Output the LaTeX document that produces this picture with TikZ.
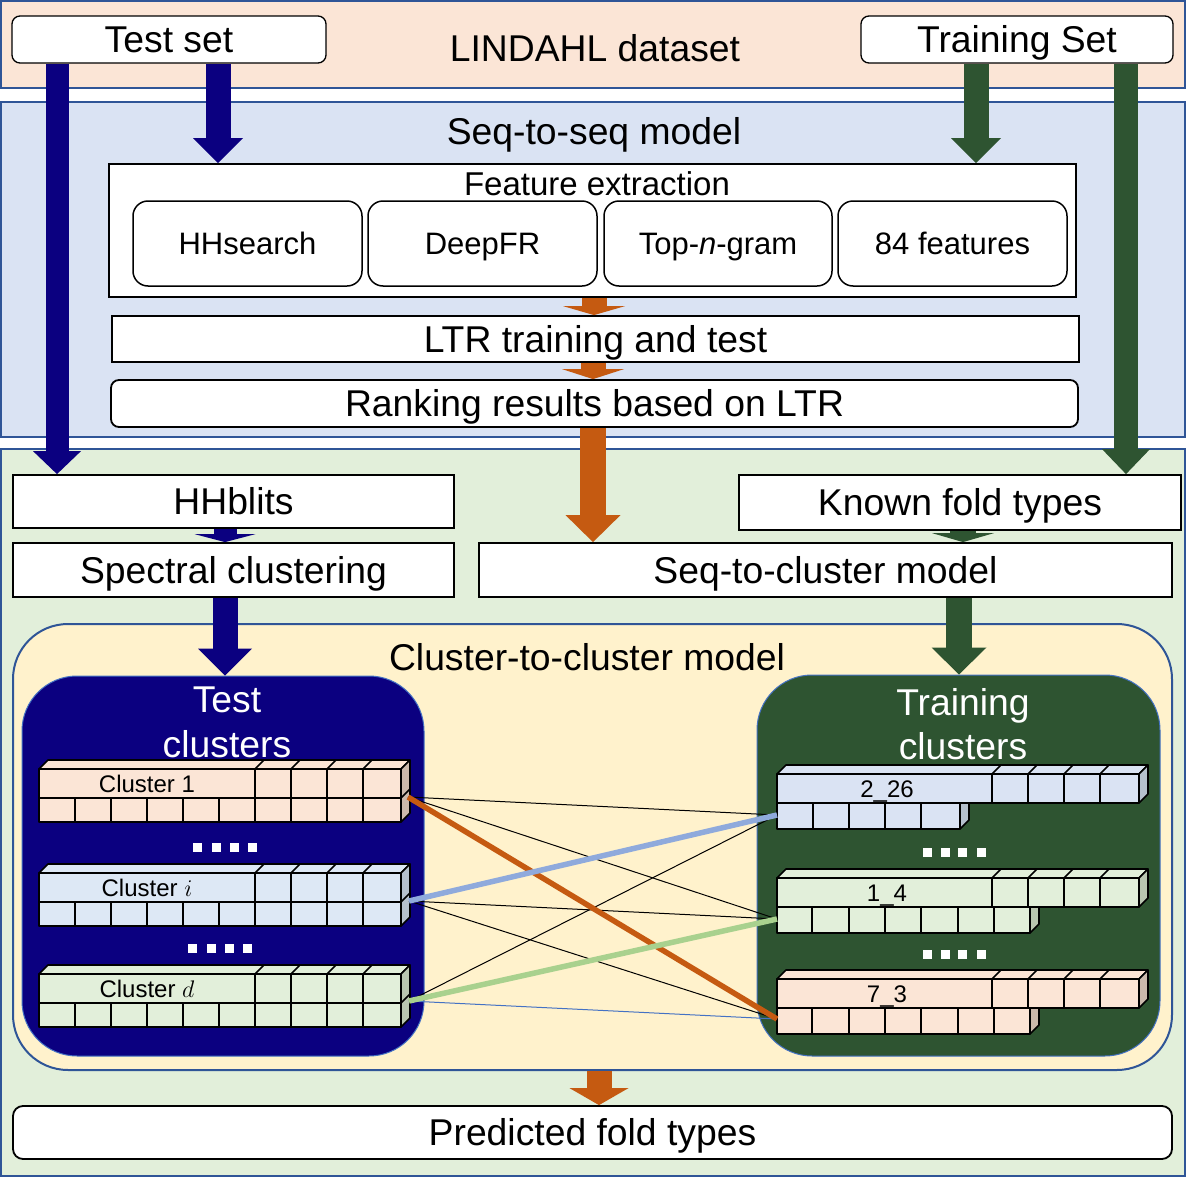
\documentclass[tikz,border=0pt]{standalone}
\usepackage{fix-cm}
\usepackage{fontspec}
\setmainfont{Liberation Sans}
\usetikzlibrary{arrows.meta}
\definecolor{peach}{HTML}{FBE5D6}
\definecolor{lblue}{HTML}{DAE3F3}
\definecolor{lgreen}{HTML}{E2EFDA}
\definecolor{lyellow}{HTML}{FFF2CC}
\definecolor{navy}{HTML}{0B0080}
\definecolor{dkgreen}{HTML}{2E5431}
\definecolor{orng}{HTML}{C55A11}
\definecolor{bandline}{HTML}{2F5597}
\definecolor{cpeach}{HTML}{FBE5D6}
\definecolor{cblue}{HTML}{DDE8F5}
\definecolor{cgreen}{HTML}{E2EFDA}
\definecolor{speach}{HTML}{CBB9AC}
\definecolor{sblue}{HTML}{B5C0CD}
\definecolor{sgreen}{HTML}{B9C6B0}
\definecolor{thickblue}{HTML}{8FAADC}
\definecolor{thickgreen}{HTML}{A9D18E}
\definecolor{thinblue}{HTML}{4472C4}
\tikzset{
  bigfont/.style={font=\fontsize{37.3}{44}\selectfont},
  bandbox/.style={draw=bandline, line width=2pt, inner sep=0pt},
  wbox/.style={draw=black, line width=1.8pt, fill=white, inner sep=0pt, bigfont, text height=26.6pt, text depth=0pt},
  featbox/.style={draw=black, line width=1.5pt, fill=white, rounded corners=15pt, inner sep=0pt, font=\fontsize{31}{37}\selectfont, text height=22.3pt, text depth=0pt, minimum width=229pt, minimum height=85pt},
  lbl/.style={inner sep=0pt, bigfont, text height=26.6pt, text depth=0pt},
  clab/.style={inner sep=0pt, font=\fontsize{24}{29}\selectfont, text height=17.3pt, text depth=0pt},
  cellln/.style={draw=black, line width=1.6pt, line join=round},
  barrow/.style n args={3}{line width=#1, -{Triangle[width=#2,length=#3,line width=0pt]}},
  thinlink/.style={line width=1pt},
  fatlink/.style={line width=5.5pt},
  cbox/.style={draw=thinblue, line width=1pt, rounded corners=55pt, inner sep=0pt, minimum width=402pt, minimum height=380pt},
}
% left 3D bar: y0, fill, side colour, label, name
\newcommand\lbar[5]{%
  \filldraw[cellln, fill=#2] (39,#1) -- (48,{#1-9}) -- (410,{#1-9}) -- (401,#1) -- cycle;
  \filldraw[cellln, fill=#3] (401,#1) -- (410,{#1-9}) -- (410,{#1+44}) -- (401,{#1+53}) -- cycle;
  \filldraw[cellln, fill=#2] (39,#1) rectangle (401,{#1+53});
  \draw[cellln] (39,{#1+29}) -- (401,{#1+29}) -- (410,{#1+20});
  \foreach \xx in {255,291,327,363} {\draw[cellln] (\xx,{#1+29}) -- (\xx,#1) -- ({\xx+9},{#1-9});}
  \foreach \xx in {75,111,147,183,219,255,291,327,363} {\draw[cellln] (\xx,{#1+29}) -- (\xx,{#1+53});}
  \node[clab] (#5) at (147,{#1+14.5}) {#4};
}
% right 3D bar: y0, fill, side colour, label, name, lower right end, lower cell list
\newcommand\rbar[7]{%
  \filldraw[cellln, fill=#3] (#6,{#1+29}) -- ({#6+9},{#1+29}) -- ({#6+9},{#1+46}) -- (#6,{#1+55}) -- cycle;
  \filldraw[cellln, fill=#2] (777,{#1+29}) rectangle (#6,{#1+55});
  \foreach \xx in {#7} {\draw[cellln] (\xx,{#1+29}) -- (\xx,{#1+55});}
  \filldraw[cellln, fill=#2] (777,#1) -- (786,{#1-9}) -- (1148,{#1-9}) -- (1139,#1) -- cycle;
  \filldraw[cellln, fill=#3] (1139,#1) -- (1148,{#1-9}) -- (1148,{#1+20}) -- (1139,{#1+29}) -- cycle;
  \filldraw[cellln, fill=#2] (777,#1) rectangle (1139,{#1+29});
  \foreach \xx in {992,1028,1064,1100} {\draw[cellln] (\xx,{#1+29}) -- (\xx,#1) -- ({\xx+9},{#1-9});}
  \node[clab] (#5) at (887,{#1+14.5}) {#4};
}
\begin{document}
\begin{tikzpicture}[x=1pt,y=-1pt]
\useasboundingbox (0,0) rectangle (1187,1178);
% bands
\node[bandbox, fill=peach, minimum width=1184pt, minimum height=87pt] (bandA) at (593,44.5) {};
\node[bandbox, fill=lblue, minimum width=1184pt, minimum height=335pt] (bandB) at (593,269.5) {};
\node[bandbox, fill=lgreen, minimum width=1184pt, minimum height=727pt] (bandC) at (593,812.5) {};
\node[lbl] (lindahl) at (595,48) {LINDAHL dataset};
\node[lbl] (s2s) at (594,131) {Seq-to-seq model};
% boxes
\node[wbox, rounded corners=8pt, line width=1.3pt, minimum width=314pt, minimum height=47pt] (test) at (169,39.5) {Test set};
\node[wbox, rounded corners=8pt, line width=1.3pt, minimum width=312pt, minimum height=47pt] (train) at (1017,39.5) {Training Set};
\node[wbox, minimum width=967pt, minimum height=133pt] (fe) at (592.5,230.5) {};
\node[lbl, font=\fontsize{33}{40}\selectfont, text height=23.8pt] (fet) at (597,184) {Feature extraction};
\node[featbox] (hhs) at (247.5,243.5) {HHsearch};
\node[featbox] (dfr) at (482.5,243.5) {DeepFR};
\node[featbox, minimum width=228pt] (topn) at (718,243.5) {Top-\textit{n}-gram};
\node[featbox] (f84) at (952.5,243.5) {84 features};
\node[wbox, minimum width=967pt, minimum height=46pt] (ltr) at (595.5,339) {LTR training and test};
\node[wbox, rounded corners=8pt, minimum width=967pt, minimum height=47pt] (rank) at (594.5,403.5) {Ranking results based on LTR};
\node[wbox, minimum width=441pt, minimum height=53pt] (hhb) at (233.5,501.5) {HHblits};
\node[wbox, minimum width=442pt, minimum height=55pt] (kft) at (960,502.5) {Known fold types};
\node[wbox, minimum width=441pt, minimum height=54pt] (spec) at (233.5,570) {Spectral clustering};
\node[wbox, minimum width=693pt, minimum height=54pt] (s2cl) at (825.5,570) {Seq-to-cluster model};
% cluster-to-cluster
\node[bandbox, fill=lyellow, rounded corners=55pt, minimum width=1159pt, minimum height=446pt] (c2c) at (592.5,847) {};
\node[lbl] (c2ct) at (587,657) {Cluster-to-cluster model};
\node[cbox, fill=navy] (testc) at (223,866) {};
\node[cbox, fill=dkgreen, minimum width=403pt, minimum height=381pt] (trainc) at (958.5,865.5) {};
\node[lbl, text=white] (tct1) at (227,699) {Test};
\node[lbl, text=white] (tct2) at (227,744) {clusters};
\node[lbl, text=white] (trt1) at (963,702) {Training};
\node[lbl, text=white] (trt2) at (963,746) {clusters};
\node[wbox, rounded corners=10pt, minimum width=1159pt, minimum height=53pt] (pred) at (592.5,1132.5) {Predicted fold types};
% bars
\lbar{769}{cpeach}{speach}{Cluster 1}{b1}
\lbar{873}{cblue}{sblue}{Cluster $i$}{bi}
\lbar{974}{cgreen}{sgreen}{Cluster $d$}{bd}
\rbar{774}{lblue}{sblue}{2\_26}{r1}{960}{813,849,885,921}
\rbar{878}{cgreen}{sgreen}{1\_4}{r2}{1030}{812,849,885,921,958,994}
\rbar{979}{cpeach}{speach}{7\_3}{r3}{1030}{812,849,885,921,958,994}
% dots
\foreach \xx in {197.5,216,234.5,252.5} {\fill[white] ({\xx-4.5},842.5) rectangle ({\xx+4.5},851.5);}
\foreach \xx in {192.5,211,229.5,247.5} {\fill[white] ({\xx-4.5},943.5) rectangle ({\xx+4.5},952.5);}
\foreach \xx in {927.5,945,962.5,981.5} {\fill[white] ({\xx-4.5},848) rectangle ({\xx+4.5},857);}
\foreach \xx in {927.5,945,962.5,981.5} {\fill[white] ({\xx-4.5},950) rectangle ({\xx+4.5},959);}
% links
\coordinate (p1) at (408,797);
\coordinate (pi) at (409,901);
\coordinate (pd) at (409,1001);
\coordinate (q1) at (777,815);
\coordinate (q2) at (777,919);
\coordinate (q3) at (777,1019);
\draw[thinlink] (p1) -- (q1);
\draw[thinlink] (p1) -- (q2);
\draw[thinlink] (pi) -- (q2);
\draw[thinlink] (pi) -- (q3);
\draw[thinlink] (pd) -- (q1);
\draw[thinlink, thinblue] (pd) -- (q3);
\draw[fatlink, orng] (p1) -- (q3);
\draw[fatlink, thickblue] (pi) -- (q1);
\draw[fatlink, thickgreen] (pd) -- (q2);
% arrow columns
\coordinate (xA) at (57,0);
\coordinate (xB) at (218,0);
\coordinate (xC) at (976,0);
\coordinate (xD) at (1126,0);
\coordinate (xE) at (594,0);
\coordinate (xF) at (593,0);
\coordinate (xG) at (225,0);
\coordinate (xH) at (963,0);
\coordinate (xI) at (959,0);
\coordinate (xJ) at (599,0);
% arrows
\draw[barrow={23pt}{48pt}{23pt}, navy] (test.south -| xA) -- (hhb.north -| xA);
\draw[barrow={25pt}{50pt}{25pt}, navy] (test.south -| xB) -- (fe.north -| xB);
\draw[barrow={25pt}{50pt}{25pt}, dkgreen] (train.south -| xC) -- (fe.north -| xC);
\draw[barrow={24pt}{48pt}{25pt}, dkgreen] (train.south -| xD) -- (kft.north -| xD);
\draw[barrow={25pt}{62pt}{9pt}, orng] (fe.south -| xE) -- (ltr.north -| xE);
\draw[barrow={25pt}{62pt}{10pt}, orng] (ltr.south -| xF) -- (rank.north -| xF);
\draw[barrow={26pt}{55pt}{27pt}, orng] (rank.south -| xF) -- (s2cl.north -| xF);
\draw[barrow={23pt}{61pt}{8pt}, navy] (hhb.south -| xG) -- (spec.north -| xG);
\draw[barrow={26pt}{62pt}{9pt}, dkgreen] (kft.south -| xH) -- (s2cl.north -| xH);
\draw[barrow={25pt}{54pt}{27pt}, navy] (spec.south -| xG) -- (testc.north -| xG);
\draw[barrow={26pt}{55pt}{27pt}, dkgreen] (s2cl.south -| xI) -- (trainc.north -| xI);
\draw[barrow={25pt}{59pt}{17pt}, orng] (c2c.south -| xJ) -- (pred.north -| xJ);
\end{tikzpicture}
\end{document}
